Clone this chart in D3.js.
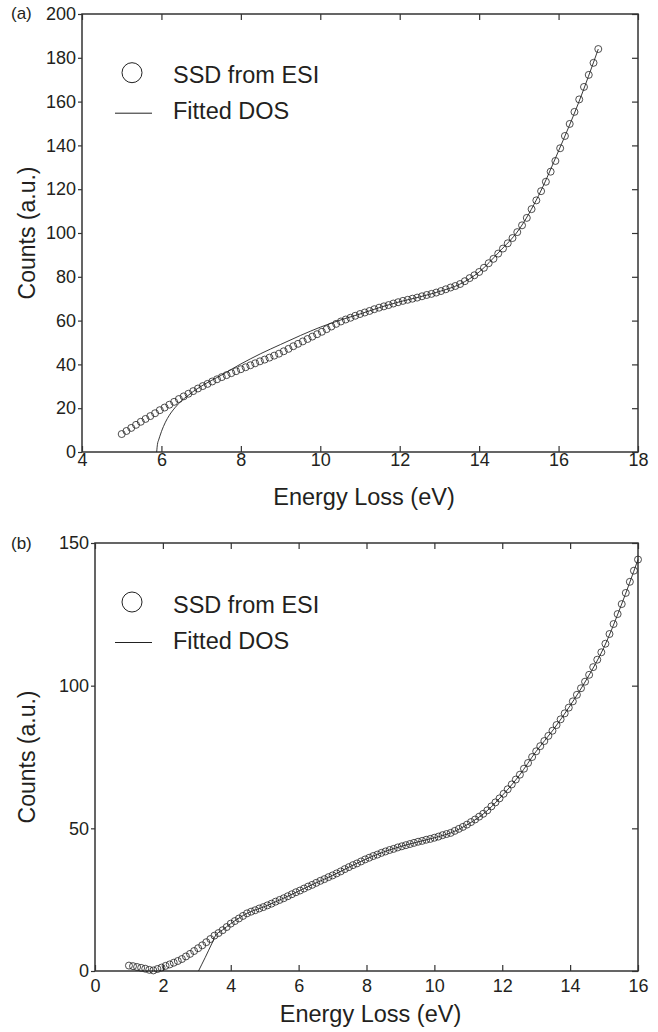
<!DOCTYPE html>
<html>
<head>
<meta charset="utf-8">
<script src="https://cdn.jsdelivr.net/npm/d3@7"></script>
<style>
  body { margin: 0; background: #fff; }
  text { font-family: "Liberation Sans", Arial, Helvetica, sans-serif; fill: #231f20; }
</style>
</head>
<body>
<div id="chart"></div>
<script>
// Panel (a): SSD from ESI, energies in eV and counts (a.u.)
const energyA = [5.00,5.12,5.24,5.36,5.48,5.60,5.72,5.84,5.96,6.08,
  6.20,6.32,6.44,6.56,6.68,6.80,6.92,7.04,7.16,7.28,
  7.40,7.52,7.64,7.76,7.88,8.00,8.12,8.24,8.36,8.48,
  8.60,8.72,8.84,8.96,9.08,9.20,9.32,9.44,9.56,9.68,
  9.80,9.92,10.04,10.16,10.28,10.40,10.52,10.64,10.76,10.88,
  11.00,11.12,11.24,11.36,11.48,11.60,11.72,11.84,11.96,12.08,
  12.20,12.32,12.44,12.56,12.68,12.80,12.92,13.04,13.16,13.28,
  13.40,13.52,13.64,13.76,13.88,14.00,14.12,14.24,14.36,14.48,
  14.60,14.72,14.84,14.96,15.08,15.20,15.32,15.44,15.56,15.68,
  15.80,15.92,16.04,16.16,16.28,16.40,16.52,16.64,16.76,16.88,
  17.00];
const ssdA = [8.2,9.6,11.0,12.4,13.8,15.1,16.4,17.7,19.1,20.3,
  21.6,22.9,24.2,25.4,26.6,27.8,29.0,30.1,31.1,32.2,
  33.2,34.2,35.1,36.0,36.9,37.8,38.7,39.6,40.5,41.4,
  42.2,43.1,44.0,44.9,46.0,47.1,48.3,49.4,50.5,51.6,
  52.7,53.8,54.9,56.1,57.3,58.5,59.6,60.5,61.3,62.2,
  63.0,63.7,64.4,65.2,65.9,66.5,67.1,67.8,68.4,69.0,
  69.5,70.0,70.5,71.1,71.7,72.2,72.8,73.5,74.3,75.1,
  75.8,76.7,78.0,79.4,80.7,82.2,84.1,86.2,88.2,90.6,
  92.9,95.3,97.7,100.4,103.5,106.9,110.9,114.9,119.1,123.4,
  128.0,132.9,138.7,144.3,149.8,155.3,161.0,166.7,172.2,177.7,
  184.0];
// Panel (a): fitted DOS
const fitEnergyA = [5.88,5.90,5.93,5.96,6.00,6.05,6.10,6.20,6.35,6.50,
  6.65,6.80,7.00,7.50,8.00,8.50,9.00,9.50,10.00,10.60,
  11.00,11.50,12.00,12.50,13.00,13.50,14.00,14.50,15.00,15.50,
  16.00,16.50,17.00];
const fitA = [0,3.5,5.5,7.2,9.3,11.6,13.6,16.8,20.4,23.3,
  25.5,27.6,30.0,35.0,40.2,44.9,49.1,53.2,57.0,60.8,
  63.0,66.0,68.6,70.8,73.3,76.5,82.2,91.3,101.5,117.2,
  137.5,159.3,184.0];

// Panel (b): SSD from ESI
const energyB = [1.00,1.12,1.24,1.36,1.48,1.60,1.72,1.84,1.96,2.08,
  2.20,2.32,2.44,2.56,2.68,2.80,2.92,3.04,3.16,3.28,
  3.40,3.52,3.64,3.76,3.88,4.00,4.12,4.24,4.36,4.48,
  4.60,4.72,4.84,4.96,5.08,5.20,5.32,5.44,5.56,5.68,
  5.80,5.92,6.04,6.16,6.28,6.40,6.52,6.64,6.76,6.88,
  7.00,7.12,7.24,7.36,7.48,7.60,7.72,7.84,7.96,8.08,
  8.20,8.32,8.44,8.56,8.68,8.80,8.92,9.04,9.16,9.28,
  9.40,9.52,9.64,9.76,9.88,10.00,10.12,10.24,10.36,10.48,
  10.60,10.72,10.84,10.96,11.08,11.20,11.32,11.44,11.56,11.68,
  11.80,11.92,12.04,12.16,12.28,12.40,12.52,12.64,12.76,12.88,
  13.00,13.12,13.24,13.36,13.48,13.60,13.72,13.84,13.96,14.08,
  14.20,14.32,14.44,14.56,14.68,14.80,14.92,15.04,15.16,15.28,
  15.40,15.52,15.64,15.76,15.88,16.00];
const ssdB = [1.9,1.7,1.4,1.1,0.8,0.4,0.2,0.7,1.2,1.8,
  2.3,2.9,3.5,4.2,5.1,6.0,7.0,8.0,9.0,10.1,
  11.2,12.4,13.3,14.3,15.4,16.6,17.5,18.4,19.3,20.2,
  20.8,21.3,21.9,22.4,23.0,23.6,24.3,24.9,25.5,26.2,
  26.9,27.6,28.2,28.9,29.6,30.2,30.9,31.6,32.2,32.9,
  33.5,34.2,34.9,35.7,36.4,37.1,37.7,38.4,39.1,39.7,
  40.3,40.8,41.4,41.9,42.4,42.8,43.3,43.7,44.1,44.5,
  44.9,45.3,45.6,46.0,46.3,46.7,47.1,47.6,48.0,48.4,
  49.1,49.8,50.5,51.3,52.2,53.1,54.1,55.1,56.3,57.7,
  59.1,60.5,62.1,63.7,65.4,67.1,68.8,70.9,72.9,75.0,
  77.0,78.8,80.6,82.4,84.2,86.2,88.2,90.3,92.3,94.5,
  96.8,99.1,101.4,103.8,106.5,109.1,111.7,114.7,118.1,121.6,
  125.1,128.6,132.5,136.4,140.3,144.2];
// Panel (b): fitted DOS
const fitEnergyB = [3.05,3.15,3.25,3.35,3.45,3.55,3.75,4.00,4.50,5.00,
  5.50,6.00,6.50,7.00,7.50,8.00,8.50,9.00,9.50,10.00,
  10.50,11.00,11.50,12.00,12.50,13.00,13.50,14.00,14.50,15.00,
  15.50,16.00];
const fitB = [0,2.4,4.8,7.3,9.8,12.4,14.3,16.6,20.3,22.6,
  25.2,28.0,30.8,33.5,36.5,39.3,41.7,43.6,45.2,46.7,
  48.5,51.5,55.6,61.5,68.5,77.0,84.5,93.0,102.5,113.5,
  128.0,144.2];

// Tick values
const xTicksA = [4, 6, 8, 10, 12, 14, 16, 18];
const yTicksA = [0, 20, 40, 60, 80, 100, 120, 140, 160, 180, 200];
const xTicksB = [0, 2, 4, 6, 8, 10, 12, 14, 16];
const yTicksB = [0, 50, 100, 150];

const legendLabels = ["SSD from ESI", "Fitted DOS"];
const axisColor = "#333";

const svg = d3.select("#chart")
    .append("svg")
    .attr("width", 658)
    .attr("height", 1032);

function drawPanel(p) {
    const width = p.right - p.left,
          height = p.bottom - p.top;

    const g = svg.append("g")
        .attr("transform", `translate(${p.left},${p.top})`);

    const x = d3.scaleLinear().domain(p.xDomain).range([0, width]);
    const y = d3.scaleLinear().domain(p.yDomain).range([height, 0]);

    // left axis, ticks outward with labels
    const left = g.append("g")
        .call(d3.axisLeft(y).tickValues(p.yTicks).tickSizeInner(4).tickSizeOuter(0).tickPadding(2));
    // right axis, inward ticks
    const right = g.append("g")
        .attr("transform", `translate(${width},0)`)
        .call(d3.axisLeft(y).tickValues(p.yTicks).tickSizeInner(6).tickSizeOuter(0).tickFormat(""));
    // top axis, inward ticks
    const top = g.append("g")
        .call(d3.axisBottom(x).tickValues(p.xTicks).tickSizeInner(6).tickSizeOuter(0).tickFormat(""));
    // bottom axis, inward ticks with labels
    const bottom = g.append("g")
        .attr("transform", `translate(0,${height})`)
        .call(d3.axisBottom(x).tickValues(p.xTicks).tickSizeInner(-6).tickSizeOuter(0).tickPadding(p.xPad));

    [left, right, top, bottom].forEach(a => {
        a.select(".domain").remove();
        a.selectAll("line").attr("stroke", axisColor).attr("stroke-width", 1.2);
        a.selectAll("text")
            .style("font-family", "'Liberation Sans', Arial, sans-serif")
            .style("font-size", "18px")
            .attr("fill", "#231f20");
    });

    // frame
    g.append("rect")
        .attr("width", width)
        .attr("height", height)
        .attr("fill", "none")
        .attr("stroke", axisColor)
        .attr("stroke-width", 1.5);

    // fitted DOS line
    const fitData = p.fitX.map((d, i) => [d, p.fitY[i]]);
    g.append("path")
        .datum(fitData)
        .attr("fill", "none")
        .attr("stroke", "#222")
        .attr("stroke-width", 0.9)
        .attr("d", d3.line()
            .x(d => x(d[0]))
            .y(d => y(d[1]))
            .curve(d3.curveMonotoneX));

    // SSD circles
    const pts = p.dataX.map((d, i) => [d, p.dataY[i]]);
    g.selectAll(".pt")
        .data(pts)
        .enter()
        .append("circle")
        .attr("cx", d => x(d[0]))
        .attr("cy", d => y(d[1]))
        .attr("r", 3.5)
        .attr("fill", "none")
        .attr("stroke", "#222")
        .attr("stroke-width", 0.8);

    // legend
    const legend = svg.append("g")
        .attr("transform", `translate(0,${p.legendY})`);
    legend.append("circle")
        .attr("cx", 132)
        .attr("cy", 0)
        .attr("r", 10)
        .attr("fill", "none")
        .attr("stroke", "#222")
        .attr("stroke-width", 1);
    legend.append("line")
        .attr("x1", 115)
        .attr("x2", 152)
        .attr("y1", 40.5)
        .attr("y2", 40.5)
        .attr("stroke", "#222")
        .attr("stroke-width", 1);
    legendLabels.forEach((lab, i) => {
        legend.append("text")
            .attr("x", 173)
            .attr("y", 10.5 + i * 36)
            .style("font-size", "23.5px")
            .text(lab);
    });

    // panel label
    svg.append("text")
        .attr("x", 11)
        .attr("y", p.labelY)
        .style("font-size", "17px")
        .text(p.label);

    // axis titles
    svg.append("text")
        .attr("x", p.left + width / 2 + 4)
        .attr("y", p.xTitleY)
        .attr("text-anchor", "middle")
        .style("font-size", "23.5px")
        .text("Energy Loss (eV)");

    svg.append("text")
        .attr("transform", "rotate(-90)")
        .attr("x", -(p.top + height / 2))
        .attr("y", 35)
        .attr("text-anchor", "middle")
        .style("font-size", "23px")
        .text("Counts (a.u.)");
}

drawPanel({
    left: 82, right: 638, top: 14, bottom: 452,
    xDomain: [4, 18], yDomain: [0, 200],
    xTicks: xTicksA, yTicks: yTicksA, xPad: 1,
    dataX: energyA, dataY: ssdA, fitX: fitEnergyA, fitY: fitA,
    legendY: 72.7, label: "(a)", labelY: 19, xTitleY: 505
});

drawPanel({
    left: 95, right: 638, top: 543, bottom: 971,
    xDomain: [0, 16], yDomain: [0, 150],
    xTicks: xTicksB, yTicks: yTicksB, xPad: 8,
    dataX: energyB, dataY: ssdB, fitX: fitEnergyB, fitY: fitB,
    legendY: 602, label: "(b)", labelY: 549, xTitleY: 1022
});
</script>
</body>
</html>
